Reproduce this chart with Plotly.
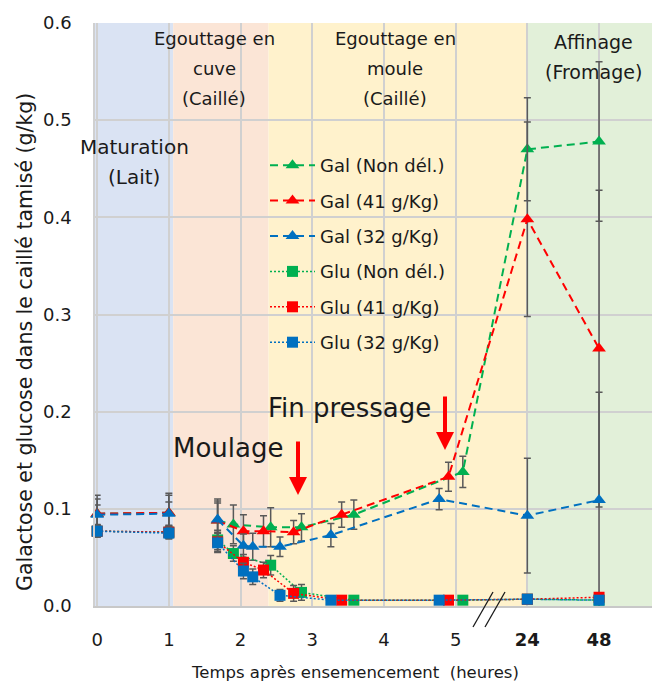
import plotly.graph_objects as go

# ---------------- data ----------------
# time in hours (24 and 48 are placed after an axis break)
t_non = [0, 1, None, 1.68, 1.90, 2.42, 2.85, 3.58, 5.10, 24, 48]
t_41 = [0, 1, None, 1.68, 2.04, 2.32, 2.74, 3.41, 4.90, 24, 48]
t_32 = [0, 1, None, 1.68, 2.04, 2.17, 2.55, 3.26, 4.77, 24, 48]

gal_non = [0.095, 0.096, None, 0.088, 0.084, 0.081, 0.081, 0.094, 0.138, 0.470, 0.478]
gal_41 = [0.095, 0.096, None, 0.088, 0.077, 0.077, 0.076, 0.094, 0.133, 0.398, 0.265]
gal_32 = [0.094, 0.095, None, 0.089, 0.062, 0.061, 0.061, 0.073, 0.110, 0.093, 0.109]

gal_non_err = [0.019, 0.020, 0, 0.020, 0.020, 0.020, 0.014, 0.015, 0.016, 0.053, 0.082]
gal_41_err = [0.015, 0.018, 0, 0.018, 0.017, 0.016, 0.012, 0.013, 0.015, 0.100, 0.163]
gal_32_err = [0.010, 0.012, 0, 0.021, 0.012, 0.014, 0.010, 0.012, 0.011, 0.059, 0.111]

glu_non = [0.077, 0.076, None, 0.068, 0.054, 0.042, 0.014, 0.006, 0.006, 0.007, 0.006]
glu_41 = [0.077, 0.076, None, 0.066, 0.045, 0.037, 0.013, 0.006, 0.006, 0.007, 0.009]
glu_32 = [0.077, 0.075, None, 0.065, 0.036, 0.030, 0.011, 0.006, 0.006, 0.007, 0.006]

glu_non_err = [0.006, 0.006, 0, 0.010, 0.008, 0.010, 0.008, 0.002, 0.002, 0.002, 0.002]
glu_41_err = [0.006, 0.006, 0, 0.010, 0.008, 0.008, 0.008, 0.002, 0.002, 0.002, 0.002]
glu_32_err = [0.006, 0.006, 0, 0.010, 0.008, 0.008, 0.006, 0.002, 0.002, 0.002, 0.002]

names = ["Gal (Non dél.)", "Gal (41 g/Kg)", "Gal (32 g/Kg)",
         "Glu (Non dél.)", "Glu (41 g/Kg)", "Glu (32 g/Kg)"]

tick_hours = [0, 1, 2, 3, 4, 5, 24, 48]
tick_text = ["0", "1", "2", "3", "4", "5", "<b>24</b>", "<b>48</b>"]

# phases: start / end in axis units and colour
phase_bounds = [(-0.03, 1.06), (1.06, 2.39), (2.39, 6.0), (6.0, 7.85)]
phase_colors = ["#DAE3F3", "#FBE5D6", "#FFF2CC", "#E2F0D9"]

# broken axis: 24 h -> position 6, 48 h -> position 7
BREAK = {24: 6, 48: 7}


def pos(ts):
    return [None if t is None else BREAK.get(t, t) for t in ts]


GREEN, RED, BLUE = "#00B050", "#FF0000", "#0070C0"
FONT = "DejaVu Sans"
TXT = "#1a1a1a"
ERRC = "#595959"

# figure geometry (page has an 8px body margin)
OFF = 8
L, R, T, B, W, H = 87, 0, 15, 80, 652, 678
PW, PH = W - L - R, H - T - B
XR = [-0.03, 7.85]


def px_to_x(sx):
    return XR[0] + (sx - OFF - L) / PW * (XR[1] - XR[0])


def py_to_y(sy):
    return (H - B - (sy - OFF)) / PH * 0.6


def px_to_paper(sx, sy):
    return (sx - OFF - L) / PW, (H - B - (sy - OFF)) / PH


fig = go.Figure()

series = [
    (t_non, gal_non, gal_non_err, GREEN, "triangle-up", "8px,5px", 2, 12),
    (t_41, gal_41, gal_41_err, RED, "triangle-up", "8px,5px", 2, 12),
    (t_32, gal_32, gal_32_err, BLUE, "triangle-up", "8px,5px", 2, 12),
    (t_non, glu_non, glu_non_err, GREEN, "square", "2px,2px", 1.5, 11),
    (t_41, glu_41, glu_41_err, RED, "square", "2px,2px", 1.5, 11),
    (t_32, glu_32, glu_32_err, BLUE, "square", "2px,2px", 1.5, 11),
]

for i, (t, y, e, c, sym, dash, lw, ms) in enumerate(series):
    fig.add_trace(go.Scatter(
        x=pos(t), y=y, name=names[i], mode="lines+markers",
        legendgroup=f"g{i}",
        line=dict(color=c, width=lw, dash=dash),
        marker=dict(symbol=sym, size=ms, color=c, line=dict(width=0)),
        error_y=dict(type="data", array=e, visible=True, color=ERRC,
                     thickness=1.5, width=3.5),
        connectgaps=False, cliponaxis=False,
    ))

shapes = []
for (x0, x1), col in zip(phase_bounds, phase_colors):
    shapes.append(dict(type="rect", xref="x", yref="paper", x0=x0, x1=x1,
                       y0=0, y1=1, fillcolor=col, line=dict(width=0),
                       layer="below"))

annotations = []


def label(text, sx, sy, size):
    annotations.append(dict(text=text, x=px_to_x(sx), y=py_to_y(sy),
                            xref="x", yref="y", showarrow=False,
                            xanchor="center", yanchor="middle",
                            font=dict(family=FONT, size=size, color=TXT)))


# phase labels, one line at a time
label("Maturation", 134, 147, 20)
label("(Lait)", 134, 177, 20)
label("Egouttage en", 214, 38, 18)
label("cuve", 214, 68, 18)
label("(Caillé)", 214, 98, 18)
label("Egouttage en", 395, 38, 18)
label("moule", 395, 68, 18)
label("(Caillé)", 395, 98, 18)
label("Affinage", 593, 42, 19)
label("(Fromage)", 593, 72, 19)
label("Moulage", 228, 448, 26)
label("Fin pressage", 349, 408, 26)

# arrows
for sx, top, tip in [(298, 440, 495), (445, 395, 450)]:
    annotations.append(dict(text="", x=px_to_x(sx), y=py_to_y(tip),
                            ax=px_to_x(sx), ay=py_to_y(top),
                            xref="x", yref="y", axref="x", ayref="y",
                            showarrow=True, arrowhead=2, arrowsize=0.9,
                            arrowwidth=4, arrowcolor=RED))

# axis titles
xt = px_to_paper(355, 672)
annotations.append(dict(text="Temps après ensemencement  (heures)",
                        x=xt[0], y=xt[1], xref="paper", yref="paper",
                        xanchor="center", yanchor="middle", showarrow=False,
                        font=dict(family=FONT, size=16.5, color=TXT)))
yt = px_to_paper(25, 342)
annotations.append(dict(text="Galactose et glucose dans le caillé tamisé (g/kg)",
                        x=yt[0], y=yt[1], xref="paper", yref="paper",
                        xanchor="center", yanchor="middle", showarrow=False,
                        textangle=-90,
                        font=dict(family=FONT, size=20.5, color=TXT)))

# axis break marks (paper coordinates so they are not clipped)
for dx in (0, 12):
    p0 = px_to_paper(473 + dx, 627)
    p1 = px_to_paper(493 + dx, 592)
    shapes.append(dict(type="line", xref="paper", yref="paper",
                       x0=p0[0], y0=p0[1], x1=p1[0], y1=p1[1],
                       line=dict(color=TXT, width=1.3), layer="above"))

lx, ly = px_to_paper(265, 147)

fig.update_layout(
    width=W, height=H,
    margin=dict(l=L, r=R, t=T, b=B),
    paper_bgcolor="white", plot_bgcolor="white",
    font=dict(family=FONT, size=17, color=TXT),
    shapes=shapes, annotations=annotations,
    showlegend=True,
    legend=dict(x=lx, y=ly, xanchor="left", yanchor="top",
                bgcolor="rgba(0,0,0,0)", font=dict(family=FONT, size=18, color=TXT),
                tracegroupgap=9, itemwidth=45),
    xaxis=dict(range=XR, tickvals=pos(tick_hours), ticktext=tick_text,
               showgrid=True, gridcolor="#D0D0D0", gridwidth=1.5,
               zeroline=False, showline=True, linecolor="#C8C8C8", linewidth=2,
               ticks="", ticklabelstandoff=16,
               tickfont=dict(family=FONT, size=18, color=TXT)),
    yaxis=dict(range=[0, 0.6], dtick=0.1, tickformat=".1f",
               showgrid=True, gridcolor="#D0D0D0", gridwidth=1.5,
               zeroline=False, showline=True, linecolor="#D0D0D0", linewidth=1.5,
               ticks="", ticklabelstandoff=18,
               tickfont=dict(family=FONT, size=18, color=TXT)),
)

fig.write_html("out.html")
